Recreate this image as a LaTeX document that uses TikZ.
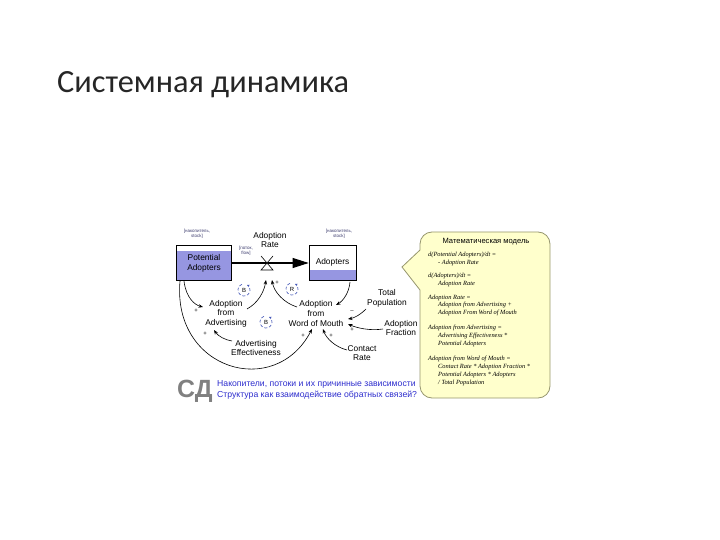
\documentclass[tikz,border=0pt]{standalone}
\usepackage{fontspec}
\setmainfont{Liberation Sans}
\newfontfamily\titlefont{Carlito}
\newfontfamily\eqfont{Liberation Serif}
\usetikzlibrary{arrows.meta}
\definecolor{lav}{RGB}{150,150,225}
\definecolor{noteFill}{RGB}{255,255,204}
\definecolor{noteLine}{RGB}{150,150,110}
\definecolor{tagc}{RGB}{60,60,110}
\definecolor{sdblue}{RGB}{45,45,205}
\definecolor{loopc}{RGB}{60,80,180}
\tikzset{
  lbl/.style={inner sep=0pt, align=center, font=\fontsize{8.4}{9.7}\selectfont},
  tag/.style={inner sep=0pt, align=center, text=tagc, font=\fontsize{4.5}{5.5}\selectfont},
  sgn/.style={inner sep=0pt, font=\fontsize{6}{6}\selectfont},
  cau/.style={-{Stealth[length=4.5bp,width=3.5bp]}, line width=0.6bp},
  stockbox/.style={draw, line width=0.7bp, minimum width=#1, minimum height=35bp, inner sep=0pt},
  loopmark/.style={loopc, densely dashed, line width=0.6bp, -{Stealth[length=2.5bp,width=2.5bp]}},
}
\begin{document}
\begin{tikzpicture}[x=1bp,y=-1bp]
\useasboundingbox (0,0) rectangle (720,540);

% title
\node[anchor=base west, inner sep=0pt, font=\titlefont\fontsize{32.5}{36}\selectfont, text=black!85] (title) at (57,93) {Системная динамика};

% stocks
\fill[lav] (176,251) rectangle (231,280);
\node[stockbox=55bp] (pot) at (203.5,262.5) {};
\node[lbl] (pottxt) at (204,263.5) {Potential\\Adopters};
\fill[lav] (309,270) rectangle (356,280);
\node[stockbox=47bp] (ado) at (332.5,262.5) {};
\node[lbl] (adotxt) at (332.5,262) {Adopters};

\node[tag] (tagpot) at (197,234) {[накопитель,\\stock]};
\node[tag] (tagado) at (339,234) {[накопитель,\\stock]};
\node[tag] (tagflow) at (246,251) {[поток,\\flow]};
\node[lbl] (ratelbl) at (270,240) {Adoption\\Rate};

% flow with valve
\coordinate (valve) at (267,263);
\draw[line width=1bp, -{Triangle[length=16bp,width=10bp]}] (pot.east |- valve) -- (ado.west |- valve);
\draw[line width=0.6bp, fill=white] (261,256) -- (273,270) -- (261,270) -- (273,256);

% auxiliaries
\node[lbl] (advA) at (226,313.5) {Adoption\\from\\Advertising};
\node[lbl] (wom) at (316,313.5) {Adoption\\from\\Word of Mouth};
\node[lbl] (totpop) at (387,298.5) {Total\\Population};
\node[lbl] (frac) at (401,328) {Adoption\\Fraction};
\node[lbl] (contact) at (362,353) {Contact\\Rate};
\node[lbl] (adveff) at (256,348) {Advertising\\Effectiveness};

% causal links
\coordinate (pA) at (184,281);
\coordinate (pB) at (180,281);
\coordinate (vL) at (266,280);
\coordinate (vR) at (272,280);
\coordinate (aB) at (350,282);
\draw[cau] (pA) .. controls (186,298) and (195,305) .. (203,307);
\draw[cau] (247,309) .. controls (258,303) and (264,292) .. (vL);
\draw[cau] (297,307) .. controls (284,303) and (274,292) .. (vR);
\draw[cau] (aB) .. controls (349,293) and (343,301) .. (336,305);
\draw[cau] (366,309) .. controls (360,315) and (354,318) .. (348,319);
\draw[cau] (383,329) .. controls (370,331) and (357,328) .. (348,324);
\draw[cau] (347,350) .. controls (335,347) and (326,338) .. (323,329);
\draw[cau] (pB) .. controls (172,370) and (275,400) .. (312,329);
\draw[cau] (232,341) .. controls (225,340) and (218,336) .. (214,330);

% polarity signs
\node[sgn] (s1) at (196,311) {+};
\node[sgn] (s2) at (205,334) {+};
\node[sgn] (s3) at (277,283) {+};
\node[sgn] (s4) at (352,312) {--};
\node[sgn] (s5) at (352,330) {+};
\node[sgn] (s6) at (331,336) {+};
\node[sgn] (s7) at (303,336) {+};

% loop markers
\foreach \nm/\lx/\ly/\lt in {lb1/244/290/B, lr/292/289/R, lb2/266/322/B}{
  \draw[loopmark] ([shift={(110:6bp)}]\lx,\ly) arc[start angle=110, end angle=420, radius=6bp];
  \node[inner sep=0pt, font=\fontsize{6}{6}\selectfont] (\nm) at (\lx,\ly) {\lt};
}

% callout with the model
\draw[fill=noteFill, draw=noteLine, line width=0.8bp]
  (402,267) -- (420,290) [rounded corners=12bp] -- (420,398) -- (550,398) -- (550,232) -- (420,232) [sharp corners] -- (420,250) -- cycle;
\node[inner sep=0pt, font=\fontsize{7.6}{8}\selectfont] (mmtitle) at (486,241.5) {Математическая модель};
\node[anchor=north west, inner sep=0pt, align=left, font=\eqfont\itshape\fontsize{6.4}{8}\selectfont] (eqs) at (428,251.5) {%
d(Potential Adopters)/dt =\\
\hspace*{10bp}- Adoption Rate\\[5bp]
d(Adopters)/dt =\\
\hspace*{10bp}Adoption Rate\\[6bp]
Adoption Rate =\\
\hspace*{10bp}Adoption from Advertising +\\
\hspace*{10bp}Adoption From Word of Mouth\\[7bp]
Adoption from Advertising =\\
\hspace*{10bp}Advertising Effectiveness *\\
\hspace*{10bp}Potential Adopters\\[7bp]
Adoption from Word of Mouth =\\
\hspace*{10bp}Contact Rate * Adoption Fraction *\\
\hspace*{10bp}Potential Adopters * Adopters\\
\hspace*{10bp}/ Total Population};

% caption
\node[anchor=base west, inner sep=0pt, text=black!50, font=\bfseries\fontsize{25}{25}\selectfont] (sd) at (177,397) {СД};
\node[anchor=base west, inner sep=0pt, text=sdblue, font=\fontsize{8.7}{10}\selectfont] (cap1) at (217,386.5) {Накопители, потоки и их причинные зависимости};
\node[anchor=base west, inner sep=0pt, text=sdblue, font=\fontsize{8.7}{10}\selectfont] (cap2) at (217,397) {Структура как взаимодействие обратных связей?};
\end{tikzpicture}
\end{document}
